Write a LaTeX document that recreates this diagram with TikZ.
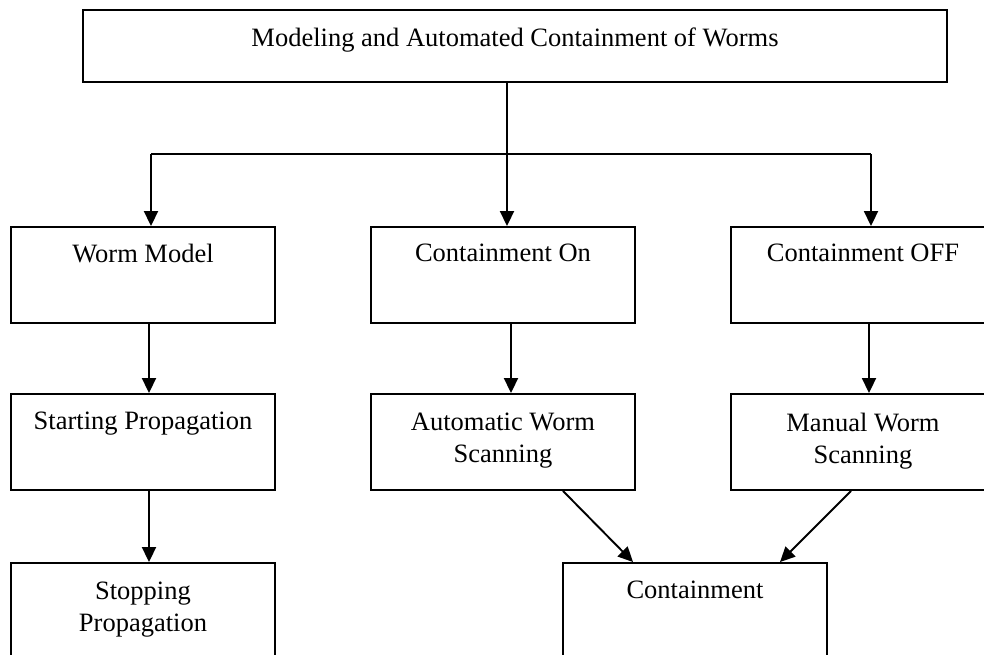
\documentclass[tikz,border=0pt]{standalone}
\usepackage{fontspec}
\setmainfont{Liberation Serif}
\usetikzlibrary{arrows.meta}

\begin{document}
\begin{tikzpicture}[x=1pt,y=-1pt,
  box/.style={draw,line width=1.9pt,minimum width=264pt,minimum height=96pt,inner sep=0pt},
  txt/.style={anchor=north,align=center,inner sep=0pt,font=\fontsize{26.5}{31.5}\selectfont},
  arr/.style={line width=1.9pt,-{Triangle[length=15pt,width=14pt]}}]
\useasboundingbox (0,0) rectangle (984,655);

\node[box,minimum width=864pt,minimum height=72pt] (main) at (515,46) {};
\node[box] (wm) at (143,275) {};
\node[box] (con) at (503,275) {};
\node[box] (coff) at (863,275) {};
\node[box] (sp) at (143,442) {};
\node[box] (aws) at (503,442) {};
\node[box] (mws) at (863,442) {};
\node[box] (stp) at (143,611) {};
\node[box] (cnt) at (695,611) {};

\node[txt] (maint) at ([yshift=-19pt]main.north) {Modeling and Automated Containment of Worms};
\node[txt] (wmt) at ([yshift=-18pt]wm.north) {Worm Model};
\node[txt] (cont) at ([yshift=-18pt]con.north) {Containment On};
\node[txt] (cofft) at ([yshift=-18pt]coff.north) {Containment OFF};
\node[txt] (spt) at ([yshift=-19pt]sp.north) {Starting Propagation};
\node[txt] (awst) at ([yshift=-20pt]aws.north) {Automatic Worm\\Scanning};
\node[txt] (mwst) at ([yshift=-20pt]mws.north) {Manual Worm\\Scanning};
\node[txt] (stpt) at ([yshift=-20pt]stp.north) {Stopping\\Propagation};
\node[txt] (cntt) at ([yshift=-19pt]cnt.north) {Containment};

\coordinate (bl) at (151,154);
\coordinate (bc) at (507,154);
\coordinate (br) at (871,154);

\draw[line width=1.9pt] (main.south -| bc) -- (bc);
\draw[line width=1.9pt] (bl) -- (br);
\draw[arr] (bl) -- (bl |- wm.north);
\draw[arr] (bc) -- (bc |- con.north);
\draw[arr] (br) -- (br |- coff.north);

\draw[arr] ([xshift=6pt]wm.south) -- ([xshift=6pt]sp.north);
\draw[arr] ([xshift=8pt]con.south) -- ([xshift=8pt]aws.north);
\draw[arr] ([xshift=6pt]coff.south) -- ([xshift=6pt]mws.north);
\draw[arr] ([xshift=6pt]sp.south) -- ([xshift=6pt]stp.north);
\draw[arr] ([xshift=60pt]aws.south) -- ([xshift=-62pt]cnt.north);
\draw[arr] ([xshift=-12pt]mws.south) -- ([xshift=85pt]cnt.north);

\end{tikzpicture}
\end{document}
